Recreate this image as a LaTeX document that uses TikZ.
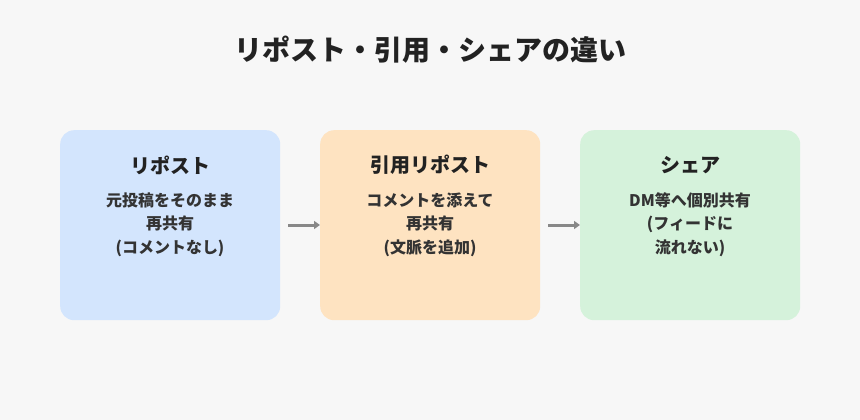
\documentclass[tikz,border=0pt]{standalone}
\usepackage{fontspec}
\setmainfont{Noto Sans CJK JP}
\usetikzlibrary{arrows.meta}
\definecolor{bg}{HTML}{F7F7F7}
\definecolor{cblue}{HTML}{D3E5FD}
\definecolor{corange}{HTML}{FEE3C1}
\definecolor{cgreen}{HTML}{D5F2DB}
\definecolor{txt}{HTML}{222222}
\definecolor{body}{HTML}{333333}
\definecolor{arr}{HTML}{888888}
\begin{document}
\begin{tikzpicture}[x=1pt,y=-1pt,
  box/.style={draw=none,rounded corners=14pt,minimum width=220pt,minimum height=190pt,anchor=north west,inner sep=0pt},
  head/.style={font=\fontsize{20}{24}\selectfont\bfseries,text=txt},
  bodyt/.style={font=\fontsize{16}{23.5}\selectfont\bfseries,text=body,align=center,anchor=north},
  conn/.style={draw=arr,line width=3pt,-{Triangle[length=6pt,width=8pt]},shorten <=8pt}]
\useasboundingbox[fill=bg] (0,0) rectangle (860,420);
\node[font=\fontsize{28}{32}\selectfont\bfseries,text=txt] (title) at (430,50) {リポスト・引用・シェアの違い};
\node[box,fill=cblue] (b1) at (60,130) {};
\node[box,fill=corange] (b2) at (320,130) {};
\node[box,fill=cgreen] (b3) at (580,130) {};
\node[head] (h1) at (170,165) {リポスト};
\node[head] (h2) at (430,165) {引用リポスト};
\node[head] (h3) at (690,165) {シェア};
\node[bodyt] (t1) at (170,189) {元投稿をそのまま\\再共有\\(コメントなし)};
\node[bodyt] (t2) at (430,189) {コメントを添えて\\再共有\\(文脈を追加)};
\node[bodyt] (t3) at (690,189) {DM等へ個別共有\\(フィードに\\流れない)};
\draw[conn] (b1.east |- 0,225) -- (b2.west |- 0,225);
\draw[conn] (b2.east |- 0,225) -- (b3.west |- 0,225);
\end{tikzpicture}
\end{document}
